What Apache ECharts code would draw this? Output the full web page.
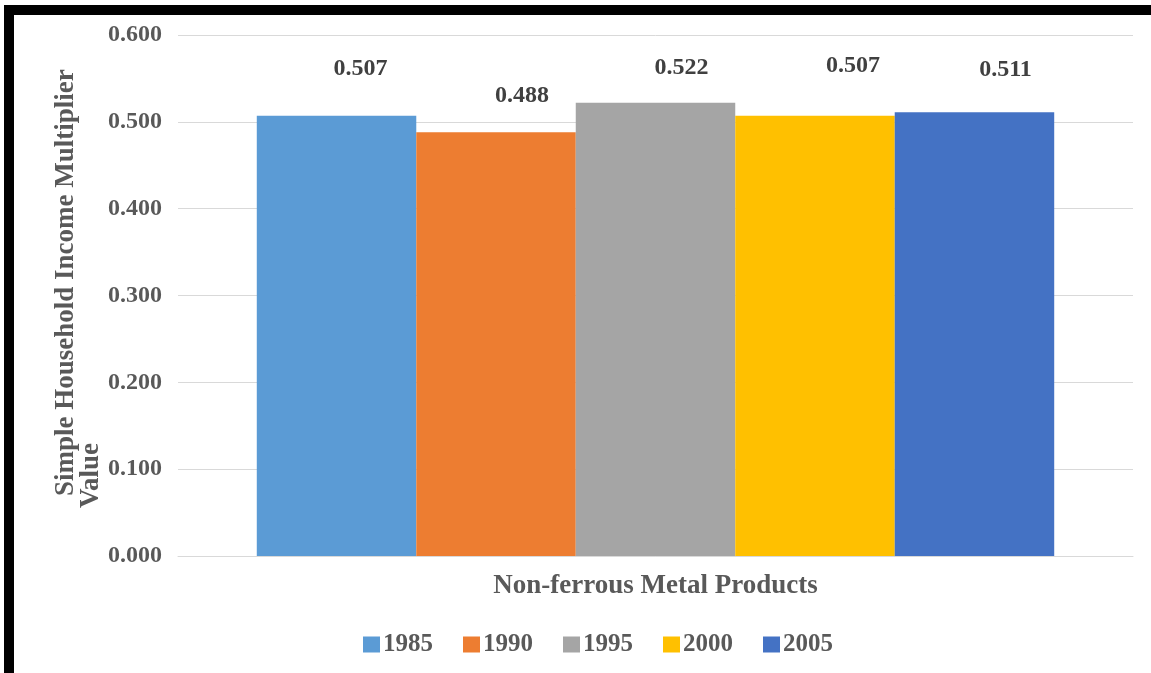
<!DOCTYPE html>
<html>
<head>
<meta charset="utf-8">
<script src="https://cdn.jsdelivr.net/npm/echarts@6/dist/echarts.min.js"></script>
<style>
  html, body { margin: 0; padding: 0; background: #ffffff; }
  #chart { width: 1151px; height: 673px; }
</style>
</head>
<body>
<div id="chart"></div>
<script>
// Simple household income multiplier, non-ferrous metal products sector
const categories = ['Non-ferrous Metal Products'];
const years = ['1985', '1990', '1995', '2000', '2005'];
const multipliers = [0.507, 0.488, 0.522, 0.507, 0.511];
const yTicks = [0, 0.1, 0.2, 0.3, 0.4, 0.5, 0.6];

const colors = ['#5B9BD5', '#ED7D31', '#A5A5A5', '#FFC000', '#4472C4'];
// hand-placed value labels: [right shift, lift above bar top]
const labelShift = [[24, 35], [26, 24], [26, 23], [38, 38], [31, 30]];
const serif = '"Liberation Serif", "Times New Roman", serif';
const textGray = '#595959';

const chart = echarts.init(document.getElementById('chart'), null, { renderer: 'canvas' });

const series = years.map((yr, i) => ({
  name: yr,
  type: 'bar',
  data: [multipliers[i]],
  barGap: '0%',
  barCategoryGap: '16.5%',
  itemStyle: { color: colors[i] },
  label: {
    show: true,
    position: 'top',
    distance: 0,
    offset: [labelShift[i][0], -labelShift[i][1]],
    formatter: p => p.value.toFixed(3),
    fontFamily: serif,
    fontWeight: 'bold',
    fontSize: 24,
    color: '#404040'
  }
}));

chart.setOption({
  animation: false,
  backgroundColor: '#ffffff',
  grid: { left: 178, right: 18, top: 35, bottom: 117 },
  xAxis: {
    type: 'category',
    data: categories,
    axisLine: { show: true, lineStyle: { color: '#d9d9d9' } },
    axisTick: { show: false },
    axisLabel: {
      margin: 17,
      fontFamily: serif,
      fontWeight: 'bold',
      fontSize: 27,
      color: textGray
    }
  },
  yAxis: {
    type: 'value',
    min: yTicks[0],
    max: yTicks[yTicks.length - 1],
    interval: 0.1,
    axisLine: { show: false },
    axisTick: { show: false },
    splitLine: { lineStyle: { color: '#d9d9d9', width: 1 } },
    axisLabel: {
      margin: 16,
      formatter: v => v.toFixed(3),
      fontFamily: serif,
      fontWeight: 'bold',
      fontSize: 24,
      color: textGray
    }
  },
  legend: {
    data: years,
    left: 358,
    top: 627,
    icon: 'rect',
    itemWidth: 17,
    itemHeight: 16,
    itemGap: 30,
    textStyle: {
      fontFamily: serif,
      fontWeight: 'bold',
      fontSize: 25,
      color: textGray,
      padding: [0, 0, 0, -2]
    }
  },
  graphic: [
    // frame edges
    { type: 'rect', shape: { x: 4, y: 5, width: 1147, height: 10 }, style: { fill: '#000000' }, silent: true },
    { type: 'rect', shape: { x: 4, y: 5, width: 10, height: 668 }, style: { fill: '#000000' }, silent: true },
    // value axis title, two lines
    {
      type: 'text',
      x: 53,
      y: 496,
      rotation: Math.PI / 2,
      style: {
        text: 'Simple Household Income Multiplier',
        fontFamily: serif,
        fontWeight: 'bold',
        fontSize: 27,
        fill: textGray,
        textAlign: 'left',
        textVerticalAlign: 'top'
      },
      silent: true
    },
    {
      type: 'text',
      x: 78,
      y: 508,
      rotation: Math.PI / 2,
      style: {
        text: 'Value',
        fontFamily: serif,
        fontWeight: 'bold',
        fontSize: 27,
        fill: textGray,
        textAlign: 'left',
        textVerticalAlign: 'top'
      },
      silent: true
    }
  ],
  series: series
});
</script>
</body>
</html>
